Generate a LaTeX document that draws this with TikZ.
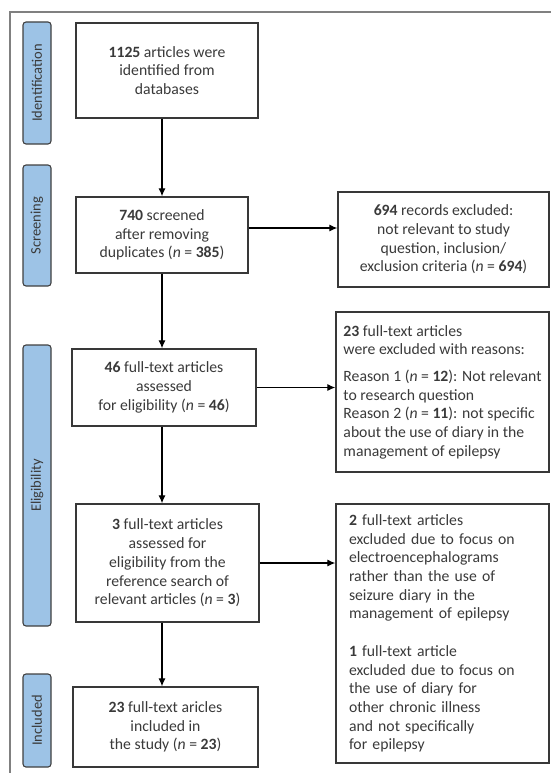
\documentclass[tikz,border=0pt]{standalone}
\usepackage{fontspec}
\setmainfont{Carlito}
\usetikzlibrary{arrows.meta}
\definecolor{tabblue}{HTML}{9DC3E6}
\definecolor{txt}{HTML}{3A3A3A}
\newcommand{\nval}[1]{(\textit{n} = \textbf{#1})}
\begin{document}
\begin{tikzpicture}[x=1pt,y=-1pt,
	box/.style={draw=black!78,line width=1.3pt,fill=white,text=txt,align=center,inner sep=0pt,font=\fontsize{15.7}{18.7}\selectfont},
	sidebox/.style={box,align=left},
	tab/.style={draw=black!75,line width=1.1pt,fill=tabblue,rounded corners=3pt,text=txt,rotate=90,inner sep=0pt,minimum height=28pt,font=\fontsize{14.5}{16}\selectfont},
	arr/.style={-{Latex[length=8pt,width=7pt]},line width=1.2pt}]
	\useasboundingbox (0,0) rectangle (550,773);
	\draw[black!50,line width=1.6pt] (552,12) -- (10,12) -- (10,776);
	% stage tabs
	\node[tab,minimum width=122pt] (tid) at (37,83) {Identification};
	\node[tab,minimum width=121pt] (tsc) at (37,225.5) {Screening};
	\node[tab,minimum width=281pt] (tel) at (37,485.5) {Eligibility};
	\node[tab,minimum width=93pt] (tin) at (37,720.5) {Included};
	% main column
	\node[box,minimum width=182pt,minimum height=95pt] (b1) at (167,70.5) {\textbf{1125} articles were\\identified from\\databases};
	\node[box,minimum width=172pt,minimum height=76pt] (b2) at (162,235) {\textbf{740} screened\\after removing\\duplicates \nval{385}};
	\node[box,minimum width=184pt,minimum height=77pt] (b3) at (164,387.5) {\textbf{46} full-text articles\\assessed\\for eligibility \nval{46}};
	\node[box,minimum width=183pt,minimum height=118pt] (b4) at (167.5,563) {\textbf{3} full-text articles\\assessed for\\eligibility from the\\reference search of\\relevant articles \nval{3}};
	\node[box,minimum width=185pt,minimum height=80pt] (b5) at (165.5,727) {\textbf{23} full-text aricles\\included in\\the study \nval{23}};
	% exclusions
	\node[box,minimum width=211pt,minimum height=95pt] (r1) at (443.5,239.5) {\textbf{694} records excluded:\\not relevant to study\\question, inclusion/\\exclusion criteria \nval{694}};
	\node[sidebox,minimum width=213pt,minimum height=160pt] (r2) at (442.5,392) {\textbf{23} full-text articles\\were excluded with reasons:\\[8pt]Reason 1 \nval{12}: Not relevant\\to research question\\Reason 2 \nval{11}: not specific\\about the use of diary in the\\management of epilepsy};
	\node[sidebox,inner xsep=13pt,text width=187pt,minimum height=259pt] (r3) at (442.5,633.5) {\textbf{2} full-text articles\\excluded due to focus on\\electroencephalograms\\rather than the use of\\seizure diary in the\\management of epilepsy\\[18.7pt]\textbf{1} full-text article\\excluded due to focus on\\the use of diary for\\other chronic illness\\and not specifically\\for epilepsy};
	% connectors
	\coordinate (spine) at (162,0);
	\coordinate (e1) at (0,228);
	\draw[arr] (b1.south -| spine) -- (b2.north -| spine);
	\draw[arr] (b2.south -| spine) -- (b3.north -| spine);
	\draw[arr] (b3.south -| spine) -- (b4.north -| spine);
	\draw[arr] (b4.south -| spine) -- (b5.north -| spine);
	\draw[arr] (b2.east |- e1) -- (r1.west |- e1);
	\draw[arr] (b3.east) -- (b3.east -| r2.west);
	\draw[arr] (b4.east) -- (b4.east -| r3.west);
\end{tikzpicture}
\end{document}
